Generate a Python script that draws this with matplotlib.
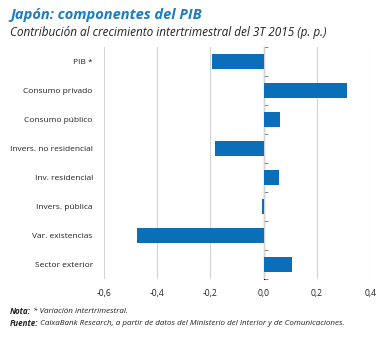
import matplotlib
matplotlib.use("Agg")
import matplotlib.pyplot as plt
from matplotlib.ticker import FuncFormatter

categories = ["PIB *", "Consumo privado", "Consumo público", "Invers. no residencial",
              "Inv. residencial", "Invers. pública", "Var. existencias", "Sector exterior"]
values = [-0.194, 0.313, 0.063, -0.183, 0.059, -0.006, -0.475, 0.106]
xticks = [-0.6, -0.4, -0.2, 0.0, 0.2, 0.4]

plt.rcParams['font.family'] = ['Open Sans', 'DejaVu Sans']

fig = plt.figure(figsize=(3.82, 3.38), dpi=100)
ax = fig.add_axes([0.272, 0.175, 0.697, 0.686])

pos = list(range(len(categories)))
ax.barh(pos, values, height=0.5, color="#0a6fb8", zorder=3)
ax.set_ylim(len(categories) - 0.5, -0.5)
ax.set_xlim(-0.6, 0.4)

ax.set_yticks(pos)
ax.set_yticklabels(categories, fontsize=6.0, color="#222222")
ax.tick_params(axis="y", length=0, pad=8)
ax.set_xticks(xticks)
ax.xaxis.set_major_formatter(FuncFormatter(lambda v, p: f"{v:.1f}".replace(".", ",").replace("-0,0", "0,0")))
ax.tick_params(axis="x", length=0, pad=7, labelsize=6.2, labelcolor="#222222")

for s in ax.spines.values():
    s.set_visible(False)
ax.grid(axis="x", color="#d4d4d4", linewidth=0.8, zorder=0)

# zero line with category separators
sec = ax.secondary_yaxis(0.6)
sec.set_yticks([p - 0.5 for p in pos] + [len(categories) - 0.5])
sec.set_yticklabels([])
sec.tick_params(length=3, width=0.7, color="#888888")
sec.spines["left"].set_color("#888888")
sec.spines["left"].set_linewidth(0.8)

fig.text(0.026, 0.955, "Japón: componentes del PIB", fontsize=10.5, fontweight="bold",
         style="italic", color="#1a7cc2", va="center")
fig.text(0.026, 0.905, "Contribución al crecimiento intertrimestral del 3T 2015 (p. p.)",
         fontsize=8.5, style="italic", color="#222222", va="center")

# notes: bold lead-in followed by regular italic text
renderer = fig.canvas.get_renderer()
notes = [("Nota:", " * Variación intertrimestral.", 0.077),
         ("Fuente:", " CaixaBank Research, a partir de datos del Ministerio del Interior y de Comunicaciones.", 0.044)]
for lead, rest, y in notes:
    t = fig.text(0.026, y, lead, fontsize=5.8, fontweight="bold", style="italic",
                 color="#222222", va="center")
    bb = t.get_window_extent(renderer=renderer)
    x2 = bb.x1 / fig.bbox.width
    fig.text(x2, y, rest, fontsize=5.8, style="italic", color="#222222", va="center")

fig.savefig("out.png", dpi=100)
